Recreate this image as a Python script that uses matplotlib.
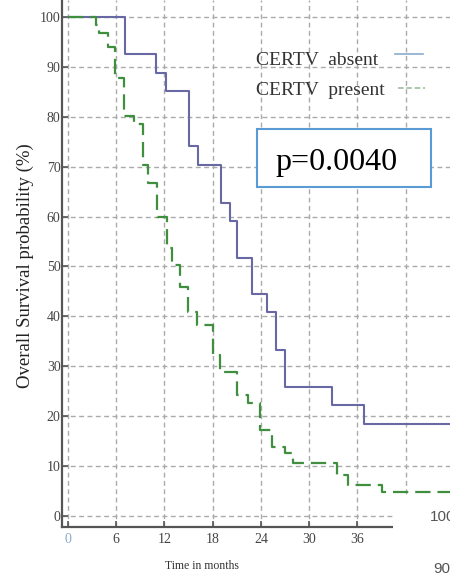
import matplotlib
matplotlib.use("Agg")
import matplotlib.pyplot as plt
from matplotlib.patches import Rectangle
from matplotlib.lines import Line2D

# ---- data ----
absent_t = [0, 7.1, 11.0, 12.2, 15.0, 16.2, 19.0, 20.1, 21.0, 22.9, 24.7, 25.9, 27.0, 32.8, 36.8, 48]
absent_s = [100, 92.5, 88.8, 85.1, 74.1, 70.3, 62.8, 59.2, 51.8, 44.4, 40.8, 33.3, 25.9, 22.2, 18.5, 18.5]

present_t = [0, 3.5, 3.9, 5.0, 5.85, 7.0, 8.2, 9.3, 10.0, 11.1, 12.3, 12.9, 13.9, 14.9, 16.0,
             18.0, 18.9, 21.0, 22.4, 23.9, 25.4, 27.0, 28.0, 33.4, 34.8, 39.0, 48]
present_s = [100, 98.4, 96.8, 94.0, 87.7, 80.2, 78.6, 70.3, 66.7, 60.0, 53.8, 50.2, 45.8, 40.8, 38.2,
             32.3, 28.9, 24.3, 22.6, 17.2, 13.8, 12.6, 10.6, 8.2, 6.2, 4.8, 4.8]

xticks = [0, 6, 12, 18, 24, 30, 36]
yticks = [0, 10, 20, 30, 40, 50, 60, 70, 80, 90, 100]
labels = ["CERTV  absent", "CERTV  present"]
p_text = "p=0.0040"
xlabel = "Time in months"
ylabel = "Overall Survival probability (%)"

plt.rcParams['lines.scale_dashes'] = False
W, H = 450, 581
fig = plt.figure(figsize=(W / 100, H / 100), dpi=100)
fig.patch.set_facecolor("white")

def fx(px):
    return px / W

def fy(py):
    return 1 - py / H

ax = fig.add_axes([fx(62), fy(527), 1 - fx(62), fy(0) - fy(527)])
ax.set_xlim(-0.746, 47.51)
ax.set_ylim(-2.2, 103.4)

blue = "#6868a4"
green = "#3f8f3f"
grid_c = "#aaaaaa"

# grid
for gx in range(0, 54, 6):
    ax.axvline(gx, color=grid_c, lw=1.0, dashes=(3.5, 2.5), zorder=1)
for gy in yticks:
    ax.axhline(gy, color=grid_c, lw=1.0, dashes=(3.5, 2.5), zorder=1)

ax.step(absent_t, absent_s, where="post", color=blue, lw=1.5, zorder=3)
ax.step(present_t, present_s, where="post", color=green, lw=1.6, zorder=4, dashes=(11, 5))

for s in ["top", "right"]:
    ax.spines[s].set_visible(False)
for s in ["left", "bottom"]:
    ax.spines[s].set_color("#555555")
    ax.spines[s].set_linewidth(1.6)

ax.set_xticks(xticks)
ax.set_yticks(yticks)
ax.set_xticklabels([str(v) for v in xticks], fontfamily="Liberation Serif", fontsize=10, color="#444444")
ax.set_yticklabels([str(v) for v in yticks], fontfamily="Liberation Serif", fontsize=10, color="#444444")
ax.get_xticklabels()[0].set_color("#8aaac8")
ax.tick_params(axis="both", direction="in", length=4, width=1.2, color="#555555")
ax.tick_params(axis="x", pad=4)
ax.tick_params(axis="y", pad=1)

# legend (text left-aligned, key lines on the right)
key_colors = ["#8aaccc", "#9cbc9c"]
key_dashes = [None, (4, 2)]
for i, (lab, kc, kd) in enumerate(zip(labels, key_colors, key_dashes)):
    base = [65, 95][i]
    fig.text(fx(256), fy(base), lab, ha="left", va="baseline",
             fontfamily="Liberation Serif", fontsize=14, color="#333333")
    ln = Line2D([fx(395 + 3 * i), fx(423 + 2 * i)], [fy(base - 11 + 4 * i)] * 2,
                transform=fig.transFigure, color=kc, lw=1.2)
    if kd:
        ln.set_dashes(kd)
    fig.add_artist(ln)

# p-value box
fig.patches.append(Rectangle((fx(257), fy(187)), fx(431) - fx(257), fy(129) - fy(187),
                             transform=fig.transFigure, facecolor="white",
                             edgecolor="#5b9bd5", lw=1.5, zorder=10))
fig.text(fx(337), fy(170), p_text, ha="center", va="baseline",
         fontfamily="Liberation Serif", fontsize=23, color="black", zorder=11)

# labels
fig.text(fx(202), fy(566), xlabel, ha="center", va="center",
         fontfamily="Liberation Serif", fontsize=8.5, color="#333333")
fig.text(fx(25), fy(266), ylabel, ha="center", va="center", rotation=90,
         fontfamily="Liberation Serif", fontsize=13.5, color="#222222")

# white box in the corner (cropped neighbour chart)
fig.patches.append(Rectangle((fx(393), 0), 1 - fx(393), fy(495), transform=fig.transFigure,
                             facecolor="white", edgecolor="none", zorder=20))
fig.text(fx(430), fy(517), "100", ha="left", va="center", fontfamily="Liberation Sans",
         fontsize=11, color="#555555", zorder=21)
fig.text(fx(433), fy(569), "90", ha="left", va="center", fontfamily="Liberation Sans",
         fontsize=11, color="#555555", zorder=21)

fig.savefig("out.png", dpi=100)
